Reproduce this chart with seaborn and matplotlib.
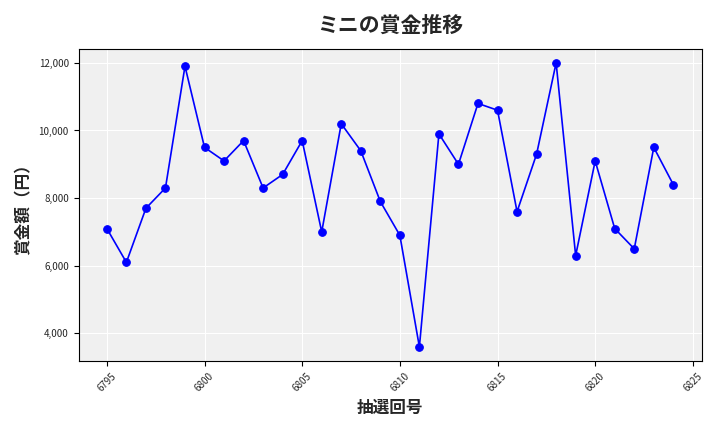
import matplotlib
matplotlib.use("Agg")
import matplotlib.pyplot as plt
import seaborn as sns
import pandas as pd
from matplotlib.ticker import FuncFormatter

draws = list(range(6795, 6825))
prizes = [7100, 6100, 7700, 8300, 11900, 9500, 9100, 9700, 8300, 8700,
          9700, 7000, 10200, 9400, 7900, 6900, 3600, 9900, 9000, 10800,
          10600, 7600, 9300, 12000, 6300, 9100, 7100, 6500, 9500, 8400]

sns.set_style("whitegrid")
plt.rcParams['font.family'] = ['Noto Sans CJK JP', 'DejaVu Sans']

df = pd.DataFrame({"draw": draws, "prize": prizes})
fig, ax = plt.subplots(figsize=(7.2, 4.32), dpi=100)
ax.set_facecolor("#f0f0f0")
sns.lineplot(data=df, x="draw", y="prize", color="blue", marker="o",
             markersize=5.5, markeredgecolor="blue", linewidth=1.2, ax=ax)
for s in ax.spines.values():
    s.set_color("black")
    s.set_linewidth(0.8)
ax.grid(color="white", linewidth=0.8)
ax.set_title("ミニの賞金推移", fontsize=15, fontweight="bold", pad=12)
ax.set_xlabel("抽選回号", fontsize=12, fontweight="bold")
ax.set_ylabel("賞金額（円）", fontsize=12, fontweight="bold")
ax.set_xticks(range(6795, 6826, 5))
ax.tick_params(axis="both", length=3.5, width=0.8, color="black", bottom=True, left=True)
ax.tick_params(axis="x", rotation=45, labelsize=7)
ax.tick_params(axis="y", labelsize=7)
ax.yaxis.set_major_formatter(FuncFormatter(lambda v, p: f"{int(v):,}"))
fig.tight_layout()
fig.savefig("out.png", dpi=100)
